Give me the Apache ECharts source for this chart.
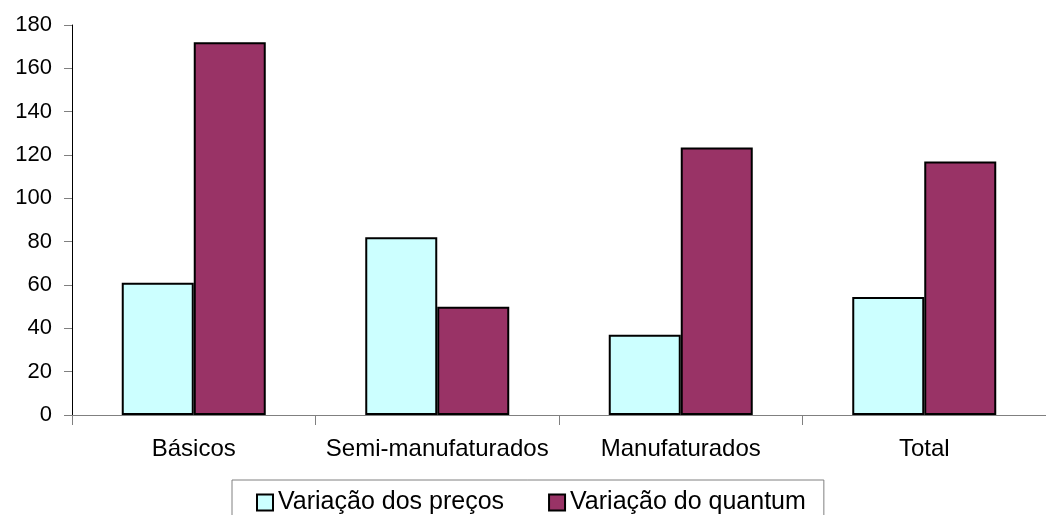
<!DOCTYPE html>
<html>
<head>
<meta charset="utf-8">
<script src="https://cdn.jsdelivr.net/npm/echarts@6/dist/echarts.min.js"></script>
<style>
  html, body { margin: 0; padding: 0; background: #fff; }
  #chart { width: 1046px; height: 515px; }
</style>
</head>
<body>
<div id="chart"></div>
<script>
// Export groups on the x axis
const categories = ['Básicos', 'Semi-manufaturados', 'Manufaturados', 'Total'];
// Series names shown in the legend
const seriesNames = ['Variação dos preços', 'Variação do quantum'];
// Values for each group
const precos = [61, 82, 37, 54.5];
const quantum = [172, 50, 123.5, 117];

const FONT = '"Liberation Sans", Arial, sans-serif';

const chart = echarts.init(document.getElementById('chart'), null, { renderer: 'canvas' });

chart.setOption({
  animation: false,
  backgroundColor: '#ffffff',
  grid: { left: 72, top: 25, width: 984, bottom: 100, containLabel: false },
  legend: {
    data: seriesNames,
    left: 232,
    top: 480,
    orient: 'horizontal',
    itemWidth: 16,
    itemHeight: 16,
    itemGap: 44,
    padding: [10, 18, 30, 24],
    borderColor: '#808080',
    borderWidth: 1,
    icon: 'rect',
    textStyle: { fontFamily: FONT, fontSize: 25, color: '#000' }
  },
  xAxis: {
    type: 'category',
    data: categories,
    axisLine: { show: true, lineStyle: { color: '#808080', width: 1 } },
    axisTick: { show: true, interval: 0, alignWithLabel: false, length: 10, lineStyle: { color: '#808080' } },
    axisLabel: { interval: 0, fontFamily: FONT, fontSize: 24, color: '#000', margin: 22 },
    splitLine: { show: false }
  },
  yAxis: {
    type: 'value',
    min: 0,
    max: 180,
    interval: 20,
    axisLine: { show: true, lineStyle: { color: '#000', width: 1 } },
    axisTick: { show: true, length: 8, lineStyle: { color: '#808080' } },
    axisLabel: { fontFamily: FONT, fontSize: 22, color: '#000', margin: 20 },
    splitLine: { show: false }
  },
  series: [
    {
      name: seriesNames[0],
      type: 'bar',
      data: precos,
      barWidth: 72,
      barGap: '0%',
      itemStyle: { color: '#CCFFFF', borderColor: '#000', borderWidth: 2 }
    },
    {
      name: seriesNames[1],
      type: 'bar',
      data: quantum,
      barWidth: 72,
      barGap: '0%',
      itemStyle: { color: '#993366', borderColor: '#000', borderWidth: 2 }
    }
  ]
});
</script>
</body>
</html>
